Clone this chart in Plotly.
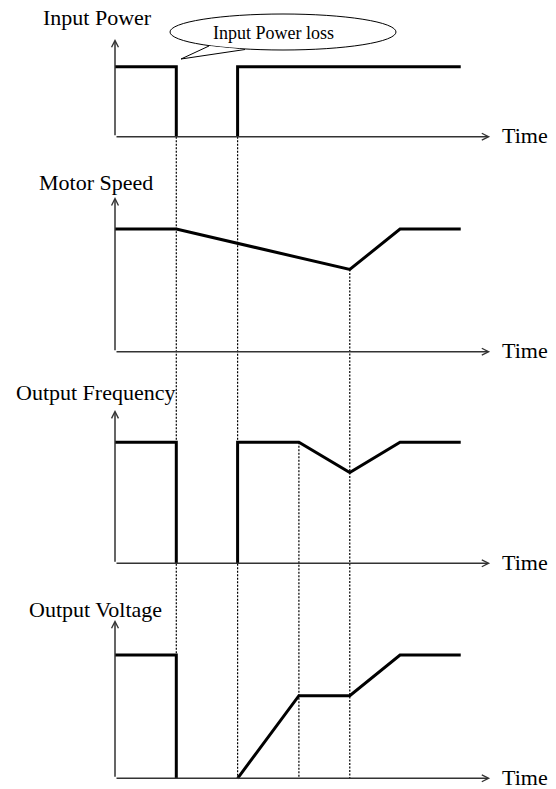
import plotly.graph_objects as go

W, H = 556, 789
FONT = "Liberation Serif, Times New Roman, serif"

# ---- event times (arbitrary time units) ----
t_loss = 1.0        # input power lost
t_restore = 2.0     # input power restored
t_hold_end = 3.0    # frequency starts to decelerate
t_min = 3.83        # minimum speed / frequency point
t_recover = 4.65    # back to set speed
t_end = 5.64
t_axis_end = 6.12

# ---- signal levels in % of nominal ----
power_t = [0, t_loss, t_loss, None, t_restore, t_restore, t_end]
power_v = [100, 100, 0, None, 0, 100, 100]

speed_t = [0, t_loss, t_min, t_recover, t_end]
speed_v = [100, 100, 67, 100, 100]

freq_t = [0, t_loss, t_loss, None, t_restore, t_restore, t_hold_end, t_min, t_recover, t_end]
freq_v = [100, 100, 0, None, 0, 100, 100, 75, 100, 100]

volt_t = [0, t_loss, t_loss, None, t_restore, t_hold_end, t_min, t_recover, t_end]
volt_v = [100, 100, 0, None, 0, 67, 67, 100, 100]

titles = ["Input Power", "Motor Speed", "Output Frequency", "Output Voltage"]
axis_tops = [139.6, 126.0, 126.7, 128.4]

# ---- page layout of the four strips (pixels) ----
X0_PX, PX_PER_T = 115.0, 61.3
panels = [
    # baseline px, 100% px, strip top px, strip bottom px, title left px, title centre px
    dict(base=136.7, full=66.7, top=0, bottom=158, tx=41, ty=18),
    dict(base=351.7, full=229.0, top=158, bottom=372, tx=37, ty=182),
    dict(base=563.3, full=442.3, top=372, bottom=585, tx=14, ty=393),
    dict(base=778.3, full=655.0, top=585, bottom=789, tx=27, ty=609),
]
for p in panels:
    s = (p["base"] - p["full"]) / 100.0
    p["range"] = [(p["base"] - p["bottom"]) / s, (p["base"] - p["top"]) / s]
    p["domain"] = [1 - p["bottom"] / H, 1 - p["top"] / H]


def to_paper(i, v):
    p = panels[i]
    r0, r1 = p["range"]
    d0, d1 = p["domain"]
    return d0 + (v - r0) / (r1 - r0) * (d1 - d0)


series = [(power_t, power_v), (speed_t, speed_v), (freq_t, freq_v), (volt_t, volt_v)]

fig = go.Figure()
for i, (tt, vv) in enumerate(series):
    fig.add_trace(go.Scatter(
        x=tt, y=vv, mode="lines", xaxis="x", yaxis="y" if i == 0 else f"y{i+1}",
        line=dict(color="black", width=3), hoverinfo="skip", showlegend=False,
        connectgaps=False,
    ))

layout = dict(
    width=W, height=H, margin=dict(l=0, r=0, t=0, b=0),
    paper_bgcolor="white", plot_bgcolor="white", showlegend=False,
    xaxis=dict(range=[-X0_PX / PX_PER_T, (W - X0_PX) / PX_PER_T], domain=[0, 1],
               visible=False, fixedrange=True),
)
for i, p in enumerate(panels):
    key = "yaxis" if i == 0 else f"yaxis{i+1}"
    layout[key] = dict(range=p["range"], domain=p["domain"], visible=False,
                       fixedrange=True, anchor="x")
fig.update_layout(**layout)

annotations = []
shapes = []
for i, p in enumerate(panels):
    yr = "y" if i == 0 else f"y{i+1}"
    axis_style = dict(showarrow=True, text="", arrowhead=5, arrowwidth=1.5,
                      arrowsize=0.9, arrowcolor="#333333", standoff=0,
                      xref="x", yref=yr, axref="x", ayref=yr)
    # time axis
    annotations.append(dict(x=t_axis_end, y=0, ax=0, ay=0, **axis_style))
    # value axis
    annotations.append(dict(x=0, y=axis_tops[i], ax=0, ay=0, **axis_style))
    annotations.append(dict(text="Time", x=500 / W, xref="paper", xanchor="left",
                            y=0, yref=yr, yanchor="middle", yshift=1, showarrow=False,
                            font=dict(family=FONT, size=22, color="black")))
    annotations.append(dict(text=titles[i], x=p["tx"] / W, xref="paper", xanchor="left",
                            y=1 - p["ty"] / H, yref="paper", yanchor="middle",
                            showarrow=False,
                            font=dict(family=FONT, size=22, color="black")))

# dotted time markers running down through the strips
markers = [
    (t_loss, 0, 0, 3, 0),
    (t_restore, 0, 0, 3, 0),
    (t_hold_end, 2, 100, 3, 0),
    (t_min, 1, 67, 3, 0),
]
for t, pa, va, pb, vb in markers:
    shapes.append(dict(type="line", xref="x", yref="paper", x0=t, x1=t,
                       y0=to_paper(pa, va), y1=to_paper(pb, vb),
                       line=dict(color="black", width=1.2, dash="2px,1.5px"),
                       layer="below"))

# speech bubble
def px(x):
    return x / W


def py(y):
    return 1 - y / H


cx, cy, rx, ry = 283, 32, 113, 18
shapes.append(dict(type="circle", xref="paper", yref="paper",
                   x0=px(cx - rx), x1=px(cx + rx), y0=py(cy + ry), y1=py(cy - ry),
                   line=dict(color="black", width=1), fillcolor="white", layer="above"))
tail = [(209, 46), (181, 59), (245, 49.5)]
path = "M {:.5f},{:.5f} L {:.5f},{:.5f} L {:.5f},{:.5f}".format(
    px(tail[0][0]), py(tail[0][1]), px(tail[1][0]), py(tail[1][1]),
    px(tail[2][0]), py(tail[2][1]))
shapes.append(dict(type="path", xref="paper", yref="paper", path=path,
                   line=dict(color="black", width=1), fillcolor="white", layer="above"))
annotations.append(dict(text="Input Power loss", x=px(273), y=py(33), xref="paper",
                        yref="paper", xanchor="center", yanchor="middle", showarrow=False,
                        font=dict(family=FONT, size=18, color="black")))

fig.update_layout(annotations=annotations, shapes=shapes)
fig.write_html("out.html")
